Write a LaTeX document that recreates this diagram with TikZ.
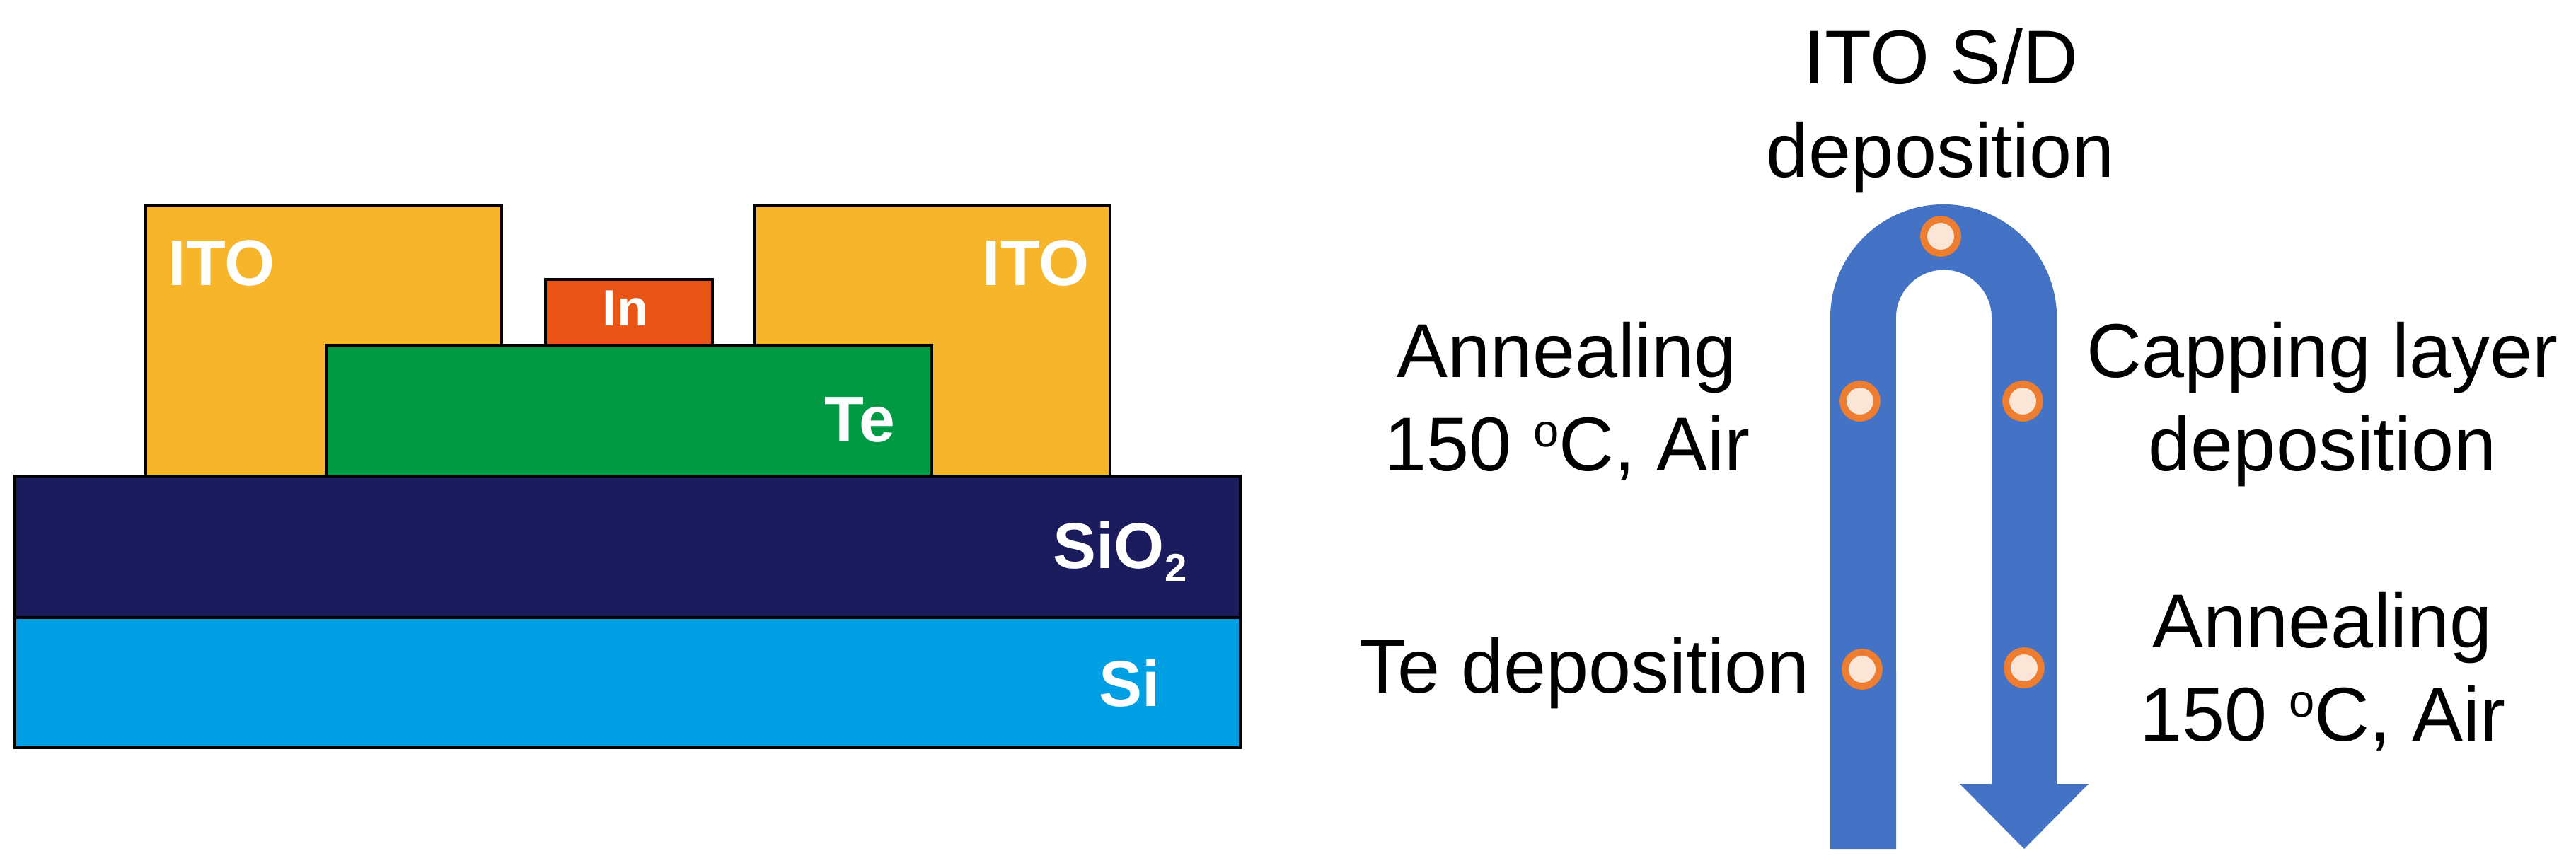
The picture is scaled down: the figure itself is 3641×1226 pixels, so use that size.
\documentclass[tikz,border=0pt]{standalone}
\usepackage{fontspec}
\setmainfont{Liberation Sans}
\definecolor{itoC}{HTML}{F7B52C}
\definecolor{teC}{HTML}{009A44}
\definecolor{inC}{HTML}{E95516}
\definecolor{sioC}{HTML}{1A1C5E}
\definecolor{siC}{HTML}{009FE3}
\definecolor{arrowC}{HTML}{4472C4}
\definecolor{dotO}{HTML}{ED7D31}
\definecolor{dotI}{HTML}{FBE5D6}
\begin{document}
\begin{tikzpicture}[x=0.01cm,y=-0.01cm,
  layer/.style={draw=black, line width=1.4pt},
  wlabel/.style={text=white, inner sep=0pt, font=\bfseries\fontsize{26pt}{30pt}\selectfont},
  blabel/.style={text=black, inner sep=0pt, align=center, font=\fontsize{30.7pt}{37.3pt}\selectfont},
  stepdot/.style={circle, draw=dotO, fill=dotI, line width=2.8pt, minimum size=0.48cm, inner sep=0pt}]
\useasboundingbox (0,0) rectangle (3641,1226);

% --- device cross-section ---
\path[layer, fill=siC]  (21,873) rectangle (1753,1057);
\path[layer, fill=sioC] (21,673) rectangle (1753,873);
\path[layer, fill=itoC] (206,290) rectangle (709,673);
\path[layer, fill=itoC] (1067,290) rectangle (1569,673);
\path[layer, fill=teC]  (461,488) rectangle (1317,673);
\path[layer, fill=inC]  (771,395) rectangle (1007,488);

\node[wlabel, anchor=base west] (itoL) at (237,403) {ITO};
\node[wlabel, anchor=base east] (itoR) at (1540,403) {ITO};
\node[wlabel, anchor=base, font=\bfseries\fontsize{20.5pt}{24pt}\selectfont] (inL) at (884,460) {In};
\node[wlabel, anchor=base east] (teL) at (1266,624) {Te};
\node[wlabel, anchor=base east] (sioL) at (1678,803) {SiO\raisebox{-5.4pt}{\fontsize{16pt}{16pt}\selectfont 2}};
\node[wlabel, anchor=base east] (siL) at (1641,998) {Si};

% --- process flow U-arrow ---
\fill[arrowC] (2587,1200) -- (2587,449)
  arc[start angle=180, end angle=0, radius=1.6cm]
  -- (2907,1108) -- (2952,1108) -- (2861,1200) -- (2770,1108) -- (2815,1108) -- (2815,449)
  arc[start angle=0, end angle=180, radius=0.675cm]
  -- (2680,1200) -- cycle;

\node[stepdot] (d1) at (2743,334) {};
\node[stepdot] (d2) at (2629,567) {};
\node[stepdot] (d3) at (2859,567) {};
\node[stepdot] (d4) at (2632,946) {};
\node[stepdot] (d5) at (2861,944) {};

% base anchor of a two-line node = baseline of its last line
\node[blabel, anchor=base] (sd) at (2743,250) {ITO S/D\\deposition};
\node[blabel, anchor=base] (annL) at (2215,665) {Annealing\\150 \raisebox{9.4pt}{\fontsize{18.5pt}{18.5pt}\selectfont o}C, Air};
\node[blabel, anchor=base] (cap) at (3283,665) {Capping layer\\deposition};
\node[blabel, anchor=base west] (tedep) at (1921,979) {Te deposition};
\node[blabel, anchor=base] (annR) at (3283,1047) {Annealing\\150 \raisebox{9.4pt}{\fontsize{18.5pt}{18.5pt}\selectfont o}C, Air};
\end{tikzpicture}
\end{document}
